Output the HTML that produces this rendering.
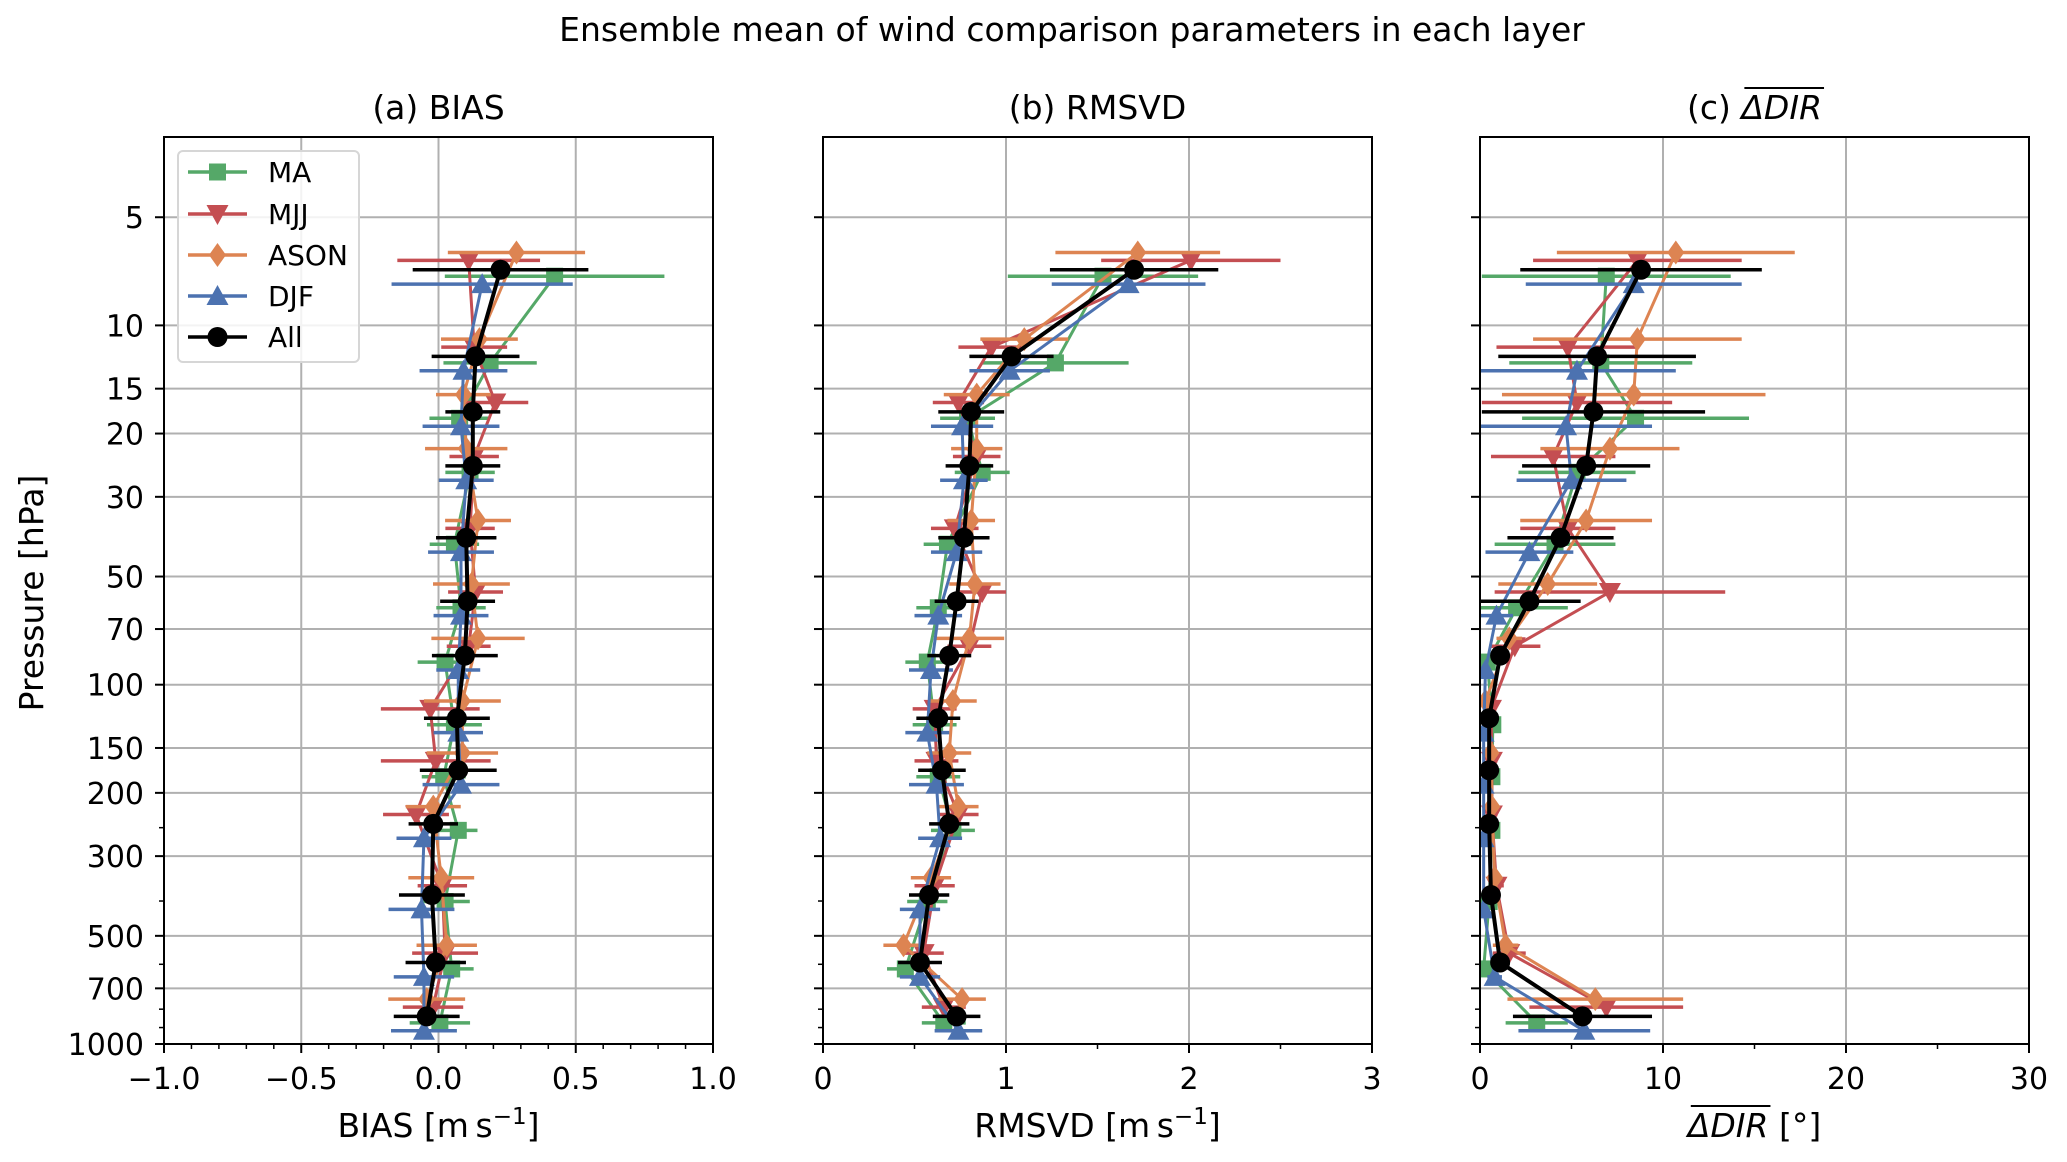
<!DOCTYPE html>
<html><head><meta charset="utf-8"><style>
html,body{margin:0;padding:0;background:#fff;}
svg{display:block;font-family:"DejaVu Sans","Liberation Sans",sans-serif;}
</style></head><body>
<svg id="fig" width="2067" height="1162" viewBox="0 0 2067 1162" xmlns="http://www.w3.org/2000/svg">
<rect width="2067" height="1162" fill="#fff"/>
<text x="1072" y="41" font-size="33" text-anchor="middle">Ensemble mean of wind comparison parameters in each layer</text>
<g id="plots"></g>
</svg>
<script>
// ---- data ----
const levels = [7, 12.2, 17.4, 24.6, 39, 58.6, 83, 124, 173, 244, 385, 593, 838];
const seriesNames = ["MA", "MJJ", "ASON", "DJF", "All"];
const seriesLogOffset = [0.018, -0.026, -0.048, 0.04, 0];

const biasMA   = [0.423,0.188,0.077,0.115,0.058,0.082,0.024,0.058,0.019,0.072,0.024,0.048,0.005];
const biasMJJ  = [0.11,0.13,0.207,0.13,0.115,0.135,0.11,-0.03,-0.01,-0.082,0.014,0.024,-0.02];
const biasASON = [0.284,0.149,0.091,0.101,0.144,0.12,0.144,0.087,0.087,-0.019,0.01,0.03,-0.043];
const biasDJF  = [0.159,0.091,0.082,0.101,0.082,0.082,0.072,0.072,0.082,-0.053,-0.062,-0.053,-0.053];
const biasAll  = [0.226,0.135,0.125,0.125,0.101,0.106,0.096,0.067,0.072,-0.019,-0.024,-0.01,-0.043];
const biasErrMA   = [0.40,0.17,0.11,0.09,0.09,0.09,0.10,0.10,0.08,0.07,0.09,0.08,0.11];
const biasErrMJJ  = [0.26,0.12,0.12,0.09,0.09,0.10,0.08,0.18,0.20,0.12,0.09,0.12,0.11];
const biasErrASON = [0.25,0.14,0.10,0.15,0.12,0.14,0.17,0.14,0.13,0.10,0.12,0.11,0.14];
const biasErrDJF  = [0.33,0.16,0.14,0.10,0.12,0.10,0.08,0.09,0.14,0.10,0.12,0.11,0.12];
const biasErrAll  = [0.32,0.16,0.10,0.10,0.11,0.10,0.12,0.12,0.14,0.09,0.12,0.11,0.12];

const rmsMA   = [1.53,1.27,0.79,0.87,0.68,0.63,0.57,0.61,0.63,0.71,0.57,0.45,0.66];
const rmsMJJ  = [2.01,0.92,0.74,0.84,0.72,0.87,0.80,0.61,0.62,0.74,0.61,0.55,0.66];
const rmsASON = [1.72,1.10,0.84,0.84,0.81,0.83,0.80,0.71,0.69,0.74,0.59,0.44,0.76];
const rmsDJF  = [1.67,1.02,0.76,0.77,0.73,0.63,0.59,0.57,0.62,0.64,0.53,0.53,0.74];
const rmsAll  = [1.70,1.03,0.81,0.80,0.77,0.73,0.69,0.63,0.65,0.69,0.58,0.53,0.73];
const rmsErrMA   = [0.52,0.40,0.15,0.15,0.13,0.12,0.12,0.12,0.12,0.12,0.11,0.10,0.12];
const rmsErrMJJ  = [0.49,0.18,0.14,0.13,0.13,0.13,0.12,0.12,0.12,0.11,0.11,0.11,0.12];
const rmsErrASON = [0.45,0.24,0.18,0.14,0.13,0.14,0.19,0.13,0.12,0.11,0.11,0.11,0.13];
const rmsErrDJF  = [0.42,0.22,0.17,0.13,0.14,0.13,0.12,0.12,0.15,0.12,0.11,0.11,0.13];
const rmsErrAll  = [0.46,0.23,0.18,0.13,0.14,0.12,0.12,0.12,0.13,0.11,0.11,0.12,0.13];

const dirMA   = [6.9,6.6,8.5,5.3,4.1,2.0,0.4,0.7,0.65,0.65,0.5,0.2,3.1];
const dirMJJ  = [8.6,4.8,5.3,4.0,4.8,7.1,1.9,0.6,0.65,0.65,0.9,1.6,6.9];
const dirASON = [10.7,8.6,8.4,7.1,5.8,3.7,1.6,0.3,0.6,0.65,0.8,1.4,6.3];
const dirDJF  = [8.4,5.3,4.7,5.0,2.7,0.9,0.3,0.2,0.2,0.2,0.2,0.8,5.7];
const dirAll  = [8.8,6.4,6.2,5.8,4.4,2.7,1.1,0.5,0.5,0.5,0.6,1.1,5.6];
const dirErrMA   = [6.8,5.0,6.2,3.2,3.3,2.8,0.5,0.4,0.3,0.3,0.3,0.3,1.7];
const dirErrMJJ  = [5.7,3.9,5.2,3.4,2.6,6.3,1.4,0.3,0.3,0.3,0.4,0.9,4.2];
const dirErrASON = [6.5,5.7,7.2,3.8,3.6,2.7,0.7,0.3,0.3,0.3,0.3,0.7,4.8];
const dirErrDJF  = [5.9,5.4,4.7,3.0,2.4,0.9,0.3,0.2,0.2,0.2,0.2,0.4,3.6];
const dirErrAll  = [6.6,5.4,6.1,3.5,2.9,2.8,0.4,0.3,0.3,0.3,0.3,0.4,3.8];

const yTicks = [5,10,15,20,30,50,70,100,150,200,300,500,700,1000];
const yMinor = [250,400,600,800,900];
const biasTicks = [-1,-0.5,0,0.5,1];
const biasTickLabels = ["\u22121.0","\u22120.5","0.0","0.5","1.0"];
const rmsTicks = [0,1,2,3];
const rmsTickLabels = ["0","1","2","3"];
const dirTicks = [0,10,20,30];
const dirTickLabels = ["0","10","20","30"];

// ---- layout ----
const colors = ["#55a868","#c44e52","#dd8452","#4c72b0","#000000"];
const markers = ["square","tri-down","diamond","tri-up","circle"];
const TOP = 137, BOT = 1044, PMAX = 1000, PMIN = 2.99;
const NS = "http://www.w3.org/2000/svg";
const root = document.getElementById("plots");
function el(tag, attrs, parent){ const e=document.createElementNS(NS,tag); for(const k in attrs) e.setAttribute(k,attrs[k]); (parent||root).appendChild(e); return e; }
function yScale(p){ return BOT - (Math.log10(PMAX) - Math.log10(p)) / (Math.log10(PMAX)-Math.log10(PMIN)) * (BOT-TOP); }

function marker(g, type, x, y, color){
  let m;
  if(type==="square") m = el("rect",{x:x-8.5,y:y-8.5,width:17,height:17,fill:color},g);
  else if(type==="circle") m = el("circle",{cx:x,cy:y,r:10,fill:color},g);
  else if(type==="diamond") m = el("polygon",{points:`${x},${y-12} ${x+8.5},${y} ${x},${y+12} ${x-8.5},${y}`,fill:color},g);
  else if(type==="tri-down") m = el("polygon",{points:`${x-11},${y-9} ${x+11},${y-9} ${x},${y+11}`,fill:color},g);
  else m = el("polygon",{points:`${x-11},${y+9} ${x+11},${y+9} ${x},${y-11}`,fill:color},g);
  return m;
}

function overline(g, t, start, len, dy){
  const total = t.getComputedTextLength();
  const anchorX = parseFloat(t.getAttribute("x"));
  const x0 = anchorX - total/2;
  const pre = start>0 ? t.getSubStringLength(0,start) : 0;
  const w = t.getSubStringLength(start,len);
  const y = parseFloat(t.getAttribute("y")) + dy;
  el("line",{x1:x0+pre+3,x2:x0+pre+w+2,y1:y,y2:y,stroke:"#000","stroke-width":2},g);
}

const panels = [
  {name:"bias", x0:164, x1:713, min:-1, max:1, ticks:biasTicks, labels:biasTickLabels, minorStep:0.1, ylabels:true,
   title:"(a) BIAS", vals:[biasMA,biasMJJ,biasASON,biasDJF,biasAll], errs:[biasErrMA,biasErrMJJ,biasErrASON,biasErrDJF,biasErrAll]},
  {name:"rmsvd", x0:823, x1:1372, min:0, max:3, ticks:rmsTicks, labels:rmsTickLabels, minorStep:0.5, ylabels:false,
   title:"(b) RMSVD", vals:[rmsMA,rmsMJJ,rmsASON,rmsDJF,rmsAll], errs:[rmsErrMA,rmsErrMJJ,rmsErrASON,rmsErrDJF,rmsErrAll]},
  {name:"dir", x0:1480, x1:2029, min:0, max:30, ticks:dirTicks, labels:dirTickLabels, minorStep:5, ylabels:false,
   title:"(c) \u0394DIR", vals:[dirMA,dirMJJ,dirASON,dirDJF,dirAll], errs:[dirErrMA,dirErrMJJ,dirErrASON,dirErrDJF,dirErrAll]}
];

panels.forEach((P,pi)=>{
  const xs = v => P.x0 + (v-P.min)/(P.max-P.min)*(P.x1-P.x0);
  const g = el("g",{});
  
  
  const clipId = "clip"+pi;
  const cp = el("clipPath",{id:clipId},g);
  el("rect",{x:P.x0,y:TOP,width:P.x1-P.x0,height:BOT-TOP},cp);
  const grid = el("g",{stroke:"#b0b0b0","stroke-width":2},g);
  
  
  P.ticks.forEach(t=>{ el("line",{x1:xs(t),x2:xs(t),y1:TOP,y2:BOT},grid); });
  yTicks.forEach(t=>{ el("line",{x1:P.x0,x2:P.x1,y1:yScale(t),y2:yScale(t)},grid); });
  yTicks.forEach(t=>{
    const tk = el("line",{x1:P.x0-9,x2:P.x0,y1:yScale(t),y2:yScale(t),stroke:"#000","stroke-width":2},g);
    
    
    if(P.ylabels){
      const tx = el("text",{x:P.x0-20,y:yScale(t)+11,"font-size":30,"text-anchor":"end"},g);
      tx.textContent = String(t);
      
      
    }
  });
  yMinor.forEach(t=>{ el("line",{x1:P.x0-5,x2:P.x0,y1:yScale(t),y2:yScale(t),stroke:"#000","stroke-width":1.5},g); });
  P.ticks.forEach((t,i)=>{
    el("line",{x1:xs(t),x2:xs(t),y1:BOT,y2:BOT+9,stroke:"#000","stroke-width":2},g);
    const tx = el("text",{x:xs(t),y:1089,"font-size":30,"text-anchor":"middle"},g);
    tx.textContent = P.labels[i];
    
    
  });
  const nMinor = Math.round((P.max-P.min)/P.minorStep);
  for(let k=0; k<=nMinor; k++){ const v=P.min+k*P.minorStep; el("line",{x1:xs(v),x2:xs(v),y1:BOT,y2:BOT+5,stroke:"#000","stroke-width":1.5},g); }
  const sg = el("g",{"clip-path":`url(#${clipId})`},g);
  P.vals.forEach((vals,si)=>{
    const s = el("g",{},sg);
    
    
    const col = colors[si];
    const ys = levels.map(p=>yScale(p*Math.pow(10,seriesLogOffset[si])));
    vals.forEach((v,i)=>{
      const e = el("line",{x1:xs(v-P.errs[si][i]),x2:xs(v+P.errs[si][i]),y1:ys[i],y2:ys[i],stroke:col,"stroke-width":3.5},s);
      
      
    });
    el("polyline",{points:vals.map((v,i)=>xs(v)+","+ys[i]).join(" "),fill:"none",stroke:col,"stroke-width":si===4?4:3,"stroke-linejoin":"round"},s);
    vals.forEach((v,i)=>{
      const m = marker(s, markers[si], xs(v), ys[i], col);
      
      
    });
  });
  el("rect",{x:P.x0,y:TOP,width:P.x1-P.x0,height:BOT-TOP,fill:"none",stroke:"#000","stroke-width":2},g);
  const cx = (P.x0+P.x1)/2;
  if(P.name==="dir"){
    const tt = el("text",{x:cx,y:119,"font-size":33,"text-anchor":"middle"},g);
    
    
    tt.innerHTML = '(c) <tspan font-style="italic">\u0394DIR</tspan>';
    overline(g, tt, 4, 4, -31);
    const xl = el("text",{x:cx,y:1137,"font-size":33,"text-anchor":"middle"},g);
    
    
    xl.innerHTML = '<tspan font-style="italic">\u0394DIR</tspan> [\u00b0]';
    overline(g, xl, 0, 4, -31);
  } else {
    const tt = el("text",{x:cx,y:119,"font-size":33,"text-anchor":"middle"},g);
    tt.textContent = P.title;
    
    
    const xl = el("text",{x:cx,y:1137,"font-size":33,"text-anchor":"middle"},g);
    xl.innerHTML = (P.name==="bias"?"BIAS":"RMSVD")+' [m\u2009s<tspan dy="-13" font-size="23">\u22121</tspan><tspan dy="13">]</tspan>';
    
    
  }
});

const yt = el("text",{x:0,y:0,"font-size":33,"text-anchor":"middle",transform:"translate(43,593) rotate(-90)"});
yt.textContent = "Pressure [hPa]";



const lg = el("g",{});


el("rect",{x:178,y:151,width:181,height:211,rx:5,fill:"#fff","fill-opacity":0.85,stroke:"#d6d6d6","stroke-width":2},lg);
const legendY = [172,214,255,296,337];
seriesNames.forEach((n,i)=>{
  const e = el("g",{},lg);
  
  
  el("line",{x1:188,x2:247,y1:legendY[i],y2:legendY[i],stroke:colors[i],"stroke-width":3.5},e);
  marker(e, markers[i], 217.5, legendY[i], colors[i]);
  const t = el("text",{x:268,y:legendY[i]+10,"font-size":28},e);
  t.textContent = n;
});
</script>
</body></html>
